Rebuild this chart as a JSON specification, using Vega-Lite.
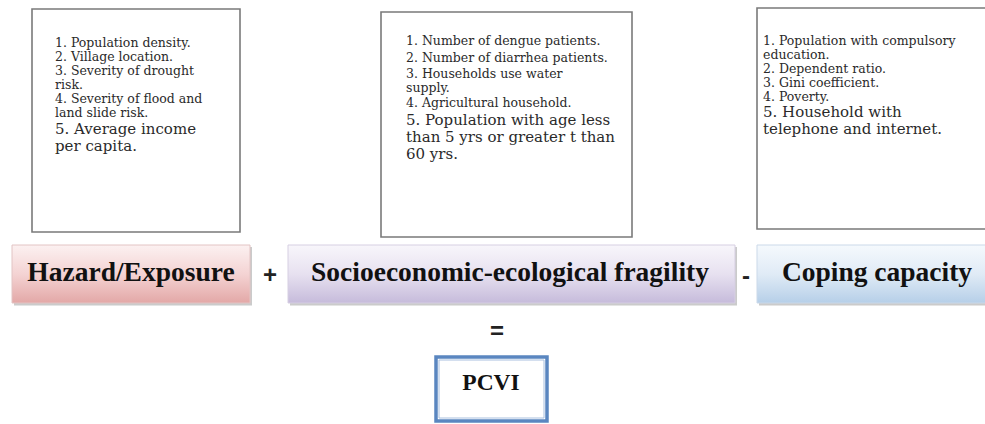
{
  "$schema": "https://vega.github.io/schema/vega-lite/v6.json",
  "width": 985,
  "height": 424,
  "padding": 0,
  "autosize": {"type": "none"},
  "background": "white",
  "config": {"view": {"stroke": null}},
  "datasets": {
    "boxes": [
      {"id": "b1", "kind": "list", "x1": 32, "x2": 240, "y1": 9, "y2": 232},
      {"id": "b2", "kind": "list", "x1": 381, "x2": 632, "y1": 12, "y2": 237},
      {"id": "b3", "kind": "list", "x1": 757, "x2": 995, "y1": 8, "y2": 229},
      {"id": "hazard", "kind": "label", "x1": 12, "x2": 250, "y1": 245, "y2": 303},
      {"id": "socio", "kind": "label", "x1": 288, "x2": 735, "y1": 245, "y2": 303},
      {"id": "coping", "kind": "label", "x1": 757, "x2": 995, "y1": 245, "y2": 303},
      {"id": "pcvi", "kind": "result", "x1": 436, "x2": 547, "y1": 357, "y2": 421}
    ],
    "lines": [
      {"box": "b1", "item": 1, "x": 55, "y": 43, "text": "1. Population density."},
      {"box": "b1", "item": 2, "x": 55, "y": 57, "text": "2. Village location."},
      {"box": "b1", "item": 3, "x": 55, "y": 71, "text": "3. Severity of drought"},
      {"box": "b1", "item": 3, "x": 55, "y": 85, "text": "risk."},
      {"box": "b1", "item": 4, "x": 55, "y": 99, "text": "4. Severity of flood and"},
      {"box": "b1", "item": 4, "x": 55, "y": 113, "text": "land slide risk."},
      {"box": "b1", "item": 5, "x": 55, "y": 129, "text": "5. Average income"},
      {"box": "b1", "item": 5, "x": 55, "y": 146, "text": "per capita."},
      {"box": "b2", "item": 1, "x": 406, "y": 41, "text": "1. Number of dengue patients."},
      {"box": "b2", "item": 2, "x": 406, "y": 58, "text": "2. Number of diarrhea patients."},
      {"box": "b2", "item": 3, "x": 406, "y": 74, "text": "3. Households use water"},
      {"box": "b2", "item": 3, "x": 406, "y": 88, "text": "supply."},
      {"box": "b2", "item": 4, "x": 406, "y": 103, "text": "4. Agricultural household."},
      {"box": "b2", "item": 5, "x": 406, "y": 120, "text": "5. Population with age less"},
      {"box": "b2", "item": 5, "x": 406, "y": 137, "text": "than 5 yrs or greater t than"},
      {"box": "b2", "item": 5, "x": 406, "y": 154, "text": "60 yrs."},
      {"box": "b3", "item": 1, "x": 763, "y": 41, "text": "1. Population with compulsory"},
      {"box": "b3", "item": 1, "x": 763, "y": 55, "text": "education."},
      {"box": "b3", "item": 2, "x": 763, "y": 69, "text": "2. Dependent ratio."},
      {"box": "b3", "item": 3, "x": 763, "y": 83, "text": "3. Gini coefficient."},
      {"box": "b3", "item": 4, "x": 763, "y": 97, "text": "4. Poverty."},
      {"box": "b3", "item": 5, "x": 763, "y": 112, "text": "5. Household with"},
      {"box": "b3", "item": 5, "x": 763, "y": 129, "text": "telephone and internet."}
    ],
    "labels": [
      {"id": "hazard", "x": 131, "y": 273, "text": "Hazard/Exposure"},
      {"id": "socio", "x": 510, "y": 273, "text": "Socioeconomic-ecological fragility"},
      {"id": "coping", "x": 877, "y": 273, "text": "Coping capacity"},
      {"id": "pcvi", "x": 491, "y": 383, "text": "PCVI"}
    ],
    "operators": [
      {"x": 270, "y": 276, "text": "+"},
      {"x": 746, "y": 277, "text": "-"},
      {"x": 497, "y": 332, "text": "="}
    ]
  },
  "encoding": {
    "x": {"field": "x1", "type": "quantitative", "scale": {"domain": [0, 985], "nice": false, "zero": false}, "axis": null},
    "y": {"field": "y1", "type": "quantitative", "scale": {"domain": [0, 424], "nice": false, "zero": false, "reverse": true}, "axis": null}
  },
  "layer": [
    {
      "data": {"name": "boxes"},
      "transform": [{"filter": "datum.kind == 'list'"}],
      "mark": {"type": "rect", "fill": "white", "stroke": "#7a7a7a", "strokeWidth": 1.6},
      "encoding": {"x2": {"field": "x2"}, "y2": {"field": "y2"}}
    },
    {
      "data": {"name": "boxes"},
      "transform": [{"filter": "datum.kind == 'label'"}],
      "mark": {"type": "rect", "fill": "#a9a9a9", "opacity": 0.6, "xOffset": 2, "x2Offset": 2, "yOffset": 2, "y2Offset": 2.5},
      "encoding": {"x2": {"field": "x2"}, "y2": {"field": "y2"}}
    },
    {
      "data": {"name": "boxes"},
      "transform": [{"filter": "datum.id == 'hazard'"}],
      "mark": {"type": "rect", "stroke": "#e2c4c4", "strokeWidth": 1,
        "fill": {"gradient": "linear", "x1": 0, "y1": 0, "x2": 0, "y2": 1,
          "stops": [{"offset": 0, "color": "#fcf1f1"}, {"offset": 0.5, "color": "#f4d3d3"}, {"offset": 1, "color": "#e3a8a7"}]}},
      "encoding": {"x2": {"field": "x2"}, "y2": {"field": "y2"}}
    },
    {
      "data": {"name": "boxes"},
      "transform": [{"filter": "datum.id == 'socio'"}],
      "mark": {"type": "rect", "stroke": "#d6cfe2", "strokeWidth": 1,
        "fill": {"gradient": "linear", "x1": 0, "y1": 0, "x2": 0, "y2": 1,
          "stops": [{"offset": 0, "color": "#f8f6fb"}, {"offset": 0.5, "color": "#e7e1f0"}, {"offset": 1, "color": "#c6bbdb"}]}},
      "encoding": {"x2": {"field": "x2"}, "y2": {"field": "y2"}}
    },
    {
      "data": {"name": "boxes"},
      "transform": [{"filter": "datum.id == 'coping'"}],
      "mark": {"type": "rect", "stroke": "#cbd9e9", "strokeWidth": 1,
        "fill": {"gradient": "linear", "x1": 0, "y1": 0, "x2": 0, "y2": 1,
          "stops": [{"offset": 0, "color": "#f5f9fd"}, {"offset": 0.5, "color": "#e0ebf6"}, {"offset": 1, "color": "#b6cfe8"}]}},
      "encoding": {"x2": {"field": "x2"}, "y2": {"field": "y2"}}
    },
    {
      "data": {"name": "boxes"},
      "transform": [{"filter": "datum.kind == 'result'"}],
      "mark": {"type": "rect", "fill": "white", "stroke": "#5a86c0", "strokeWidth": 3.5},
      "encoding": {"x2": {"field": "x2"}, "y2": {"field": "y2"}}
    },
    {
      "data": {"name": "boxes"},
      "transform": [{"filter": "datum.kind == 'result'"}],
      "mark": {"type": "rect", "fill": null, "stroke": "#a9c0df", "strokeWidth": 1, "xOffset": 3, "x2Offset": -3, "yOffset": 3, "y2Offset": -3},
      "encoding": {"x2": {"field": "x2"}, "y2": {"field": "y2"}}
    },
    {
      "data": {"name": "lines"},
      "mark": {"type": "text", "align": "left", "baseline": "middle", "font": "DejaVu Serif", "color": "#2a2a2a"},
      "encoding": {
        "x": {"field": "x", "type": "quantitative"},
        "y": {"field": "y", "type": "quantitative"},
        "text": {"field": "text"},
        "size": {"condition": {"test": "datum.item == 5", "value": 15}, "value": 12.5}
      }
    },
    {
      "data": {"name": "labels"},
      "mark": {"type": "text", "align": "center", "baseline": "middle", "font": "Liberation Serif", "fontWeight": "bold", "color": "#111111"},
      "encoding": {
        "x": {"field": "x", "type": "quantitative"},
        "y": {"field": "y", "type": "quantitative"},
        "text": {"field": "text"},
        "size": {"condition": {"test": "datum.id == 'pcvi'", "value": 23.5}, "value": 27.5}
      }
    },
    {
      "data": {"name": "operators"},
      "mark": {"type": "text", "align": "center", "baseline": "middle", "font": "Liberation Sans", "fontWeight": "bold", "fontSize": 24, "color": "#222222"},
      "encoding": {
        "x": {"field": "x", "type": "quantitative"},
        "y": {"field": "y", "type": "quantitative"},
        "text": {"field": "text"}
      }
    }
  ]
}
